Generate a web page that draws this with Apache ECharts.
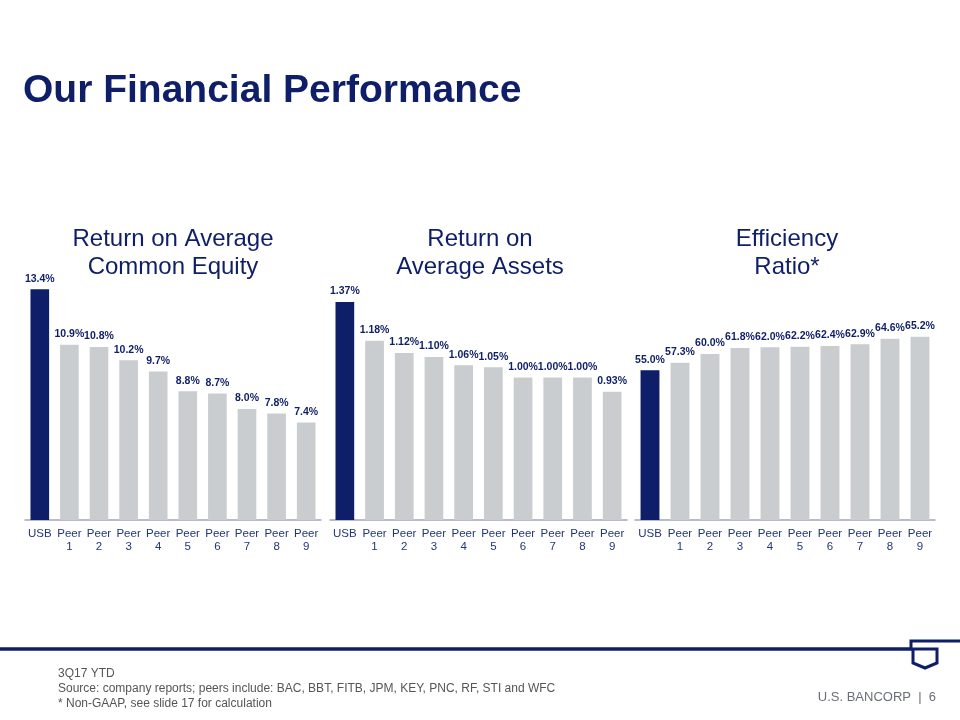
<!DOCTYPE html>
<html>
<head>
<meta charset="utf-8">
<script src="https://cdn.jsdelivr.net/npm/echarts@6/dist/echarts.min.js"></script>
<style>
html,body{margin:0;padding:0;background:#fff;}
#c{width:960px;height:720px;}
</style>
</head>
<body>
<div id="c"></div>
<script>
// ---- data ----
const categories = ['USB', 'Peer\n1', 'Peer\n2', 'Peer\n3', 'Peer\n4', 'Peer\n5', 'Peer\n6', 'Peer\n7', 'Peer\n8', 'Peer\n9'];
const roceValues = [13.4, 10.9, 10.8, 10.2, 9.7, 8.8, 8.7, 8.0, 7.8, 7.4];
const roaaValues = [1.37, 1.18, 1.12, 1.10, 1.06, 1.05, 1.00, 1.00, 1.00, 0.93];
const effValues = [55.0, 57.3, 60.0, 61.8, 62.0, 62.2, 62.4, 62.9, 64.6, 65.2];
const chartTitles = ['Return on Average\nCommon Equity', 'Return on\nAverage Assets', 'Efficiency\nRatio*'];
const decimals = [1, 2, 1];
const footnotes = ['3Q17 YTD', 'Source: company reports; peers include: BAC, BBT, FITB, JPM, KEY, PNC, RF, STI and WFC', '* Non-GAAP, see slide 17 for calculation'];

const NAVY = '#0e1e68';
const GREY = '#c9cdd0';
const FONT = '"Liberation Sans", Arial, sans-serif';

const panels = [
  {vals: roceValues, left: 25, width: 296, top: 276, min: 3, max: 14},
  {vals: roaaValues, left: 330, width: 297, top: 296, min: 0.3, max: 1.4},
  {vals: effValues, left: 635, width: 300, top: 321, min: 9.5, max: 70}
];

const grid = [], xAxis = [], yAxis = [], series = [];
panels.forEach((p, i) => {
  grid.push({left: p.left, width: p.width, top: p.top, bottom: 200});
  xAxis.push({
    type: 'category', gridIndex: i, data: categories,
    axisLine: {lineStyle: {color: '#a2a8b8', width: 1.5}},
    axisTick: {show: false},
    axisLabel: {color: '#23357a', fontSize: 11.5, fontFamily: FONT, lineHeight: 13, margin: 7, interval: 0}
  });
  yAxis.push({
    type: 'value', gridIndex: i, min: p.min, max: p.max,
    show: false, splitLine: {show: false}
  });
  series.push({
    type: 'bar', xAxisIndex: i, yAxisIndex: i,
    barCategoryGap: '37%',
    data: p.vals.map((v, k) => ({value: v, itemStyle: {color: k === 0 ? NAVY : GREY}})),
    label: {
      show: true, position: 'top', distance: 5,
      color: NAVY, fontWeight: 'bold', fontSize: 10.5, fontFamily: FONT,
      formatter: (d) => d.value.toFixed(decimals[i]) + '%'
    },
    animation: false
  });
});

const titleCenters = [173, 480, 787];
const graphic = [
  {type: 'text', left: 23, top: 72, style: {text: 'Our Financial Performance', font: 'bold 39px ' + FONT, fill: NAVY}},
  {type: 'line', shape: {x1: 0, y1: 649, x2: 912, y2: 649}, style: {stroke: NAVY, lineWidth: 3.5}},
  {type: 'polyline', shape: {points: [[960, 641], [911, 641], [911, 649]]}, style: {stroke: NAVY, lineWidth: 3, fill: null}},
  {type: 'polyline', shape: {points: [[911, 649], [937, 649], [937, 663], [925, 668], [913, 663], [913, 649]]}, style: {stroke: NAVY, lineWidth: 3, fill: null}},
  {type: 'text', right: 24, top: 691, style: {text: 'U.S. BANCORP  |  6', font: '13px ' + FONT, fill: '#6b6e78'}}
];
chartTitles.forEach((t, i) => {
  graphic.push({type: 'text', x: titleCenters[i], y: 225,
    style: {text: t, font: '24px ' + FONT, fill: NAVY, textAlign: 'center', lineHeight: 28}});
});
footnotes.forEach((t, i) => {
  graphic.push({type: 'text', left: 58, top: 668 + i * 15, style: {text: t, font: '12px ' + FONT, fill: '#555'}});
});

const chart = echarts.init(document.getElementById('c'), null, {renderer: 'canvas'});
chart.setOption({
  backgroundColor: '#fff',
  animation: false,
  grid, xAxis, yAxis, series, graphic
});
</script>
</body>
</html>
